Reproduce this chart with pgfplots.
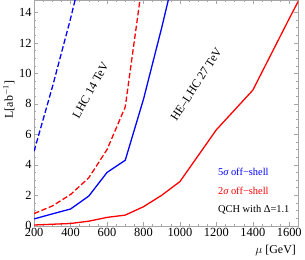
\documentclass[border=0pt]{standalone}
\usepackage{pgfplots}
\pgfplotsset{compat=1.18}
\usepackage{fontspec}
\setmainfont{Liberation Serif}
\begin{document}
\begin{tikzpicture}
\begin{axis}[
  scale only axis,
  width=266pt, height=227pt,
  xmin=200, xmax=1650, ymin=0, ymax=14.8,
  xtick={200,400,...,1600},
  ytick={0,2,...,14},
  minor x tick num=3,
  minor y tick num=3,
  tick align=inside,
  major tick length=4pt,
  minor tick length=2pt,
  axis line style={gray!70, line width=0.5pt},
  every tick/.style={gray!70, line width=0.4pt},
  /pgf/number format/assume math mode=true,
  /pgf/number format/1000 sep={},
  tick label style={font=\fontsize{12.5}{13}\selectfont},
  xticklabel style={yshift=1pt},
  yticklabel style={xshift=1pt},
  ylabel={L[ab$^{-1}$]},
  ylabel style={font=\fontsize{12}{13}\selectfont, at={(ticklabel cs:0.56)}, yshift=-2pt},
  xlabel={$\mu$ [GeV]},
  xlabel style={font=\fontsize{12}{13}\selectfont, at={(rel axis cs:1,0)}, anchor=north east, yshift=-16pt, xshift=1pt},
  clip=true,
]
% 5 sigma LHC 14 TeV (blue dashed)
\addplot[blue, line width=1.3pt, dash pattern=on 5.5pt off 2.5pt] coordinates {
(200,4.9) (300,9.1) (400,13.6) (500,18.5)};
% 2 sigma LHC 14 TeV (red dashed)
\addplot[red, line width=1.3pt, dash pattern=on 5.5pt off 2.5pt] coordinates {
(200,0.8) (300,1.3) (400,2.05) (500,3.15) (600,5.0) (700,7.8) (800,16.5)};
% 5 sigma HE-LHC 27 TeV (blue solid)
\addplot[blue, line width=1.3pt] coordinates {
(200,0.45) (300,0.78) (400,1.1) (500,1.95) (600,3.5) (700,4.3) (800,8.3) (900,13.0) (1000,18.0)};
% 2 sigma HE-LHC 27 TeV (red solid)
\addplot[red, line width=1.3pt] coordinates {
(200,0.05) (300,0.1) (400,0.15) (500,0.3) (600,0.55) (700,0.7) (800,1.25) (900,2.0) (1000,2.9) (1200,6.3) (1400,8.9) (1600,13.6) (1700,15.9)};
\node[rotate=61, font=\fontsize{12}{13}\selectfont] at (axis cs:510,8.9) {LHC 14 TeV};
\node[rotate=57, font=\fontsize{12}{13}\selectfont] at (axis cs:1090,9.3) {HE\textendash LHC 27 TeV};
\node[anchor=west, text=blue, font=\fontsize{10.5}{12}\selectfont] at (axis cs:1190,3.53) {5{\itshape σ} off−shell};
\node[anchor=west, text=red, font=\fontsize{10.5}{12}\selectfont] at (axis cs:1190,2.28) {2{\itshape σ} off−shell};
\node[anchor=west, text=black, font=\fontsize{10.5}{12}\selectfont] at (axis cs:1190,1.03) {QCH with Δ=1.1};
\end{axis}
\end{tikzpicture}
\end{document}
